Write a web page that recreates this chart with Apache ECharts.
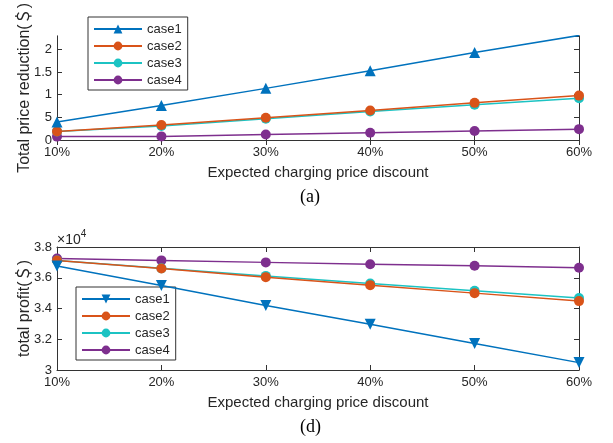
<!DOCTYPE html>
<html>
<head>
<meta charset="utf-8">
<script src="https://cdn.jsdelivr.net/npm/echarts@6/dist/echarts.min.js"></script>
<style>html,body{margin:0;padding:0;background:#fff;}#c{width:613px;height:443px;}</style>
</head>
<body>
<div id="c"></div>
<script>
const categories = ['10%', '20%', '30%', '40%', '50%', '60%'];
const seriesNames = ['case1', 'case2', 'case3', 'case4'];
// (a) Total price reduction
const reductionCase1 = [0.40, 0.76, 1.14, 1.53, 1.93, 2.31];
const reductionCase2 = [0.19, 0.33, 0.49, 0.65, 0.82, 0.98];
const reductionCase3 = [0.19, 0.31, 0.47, 0.63, 0.78, 0.92];
const reductionCase4 = [0.075, 0.08, 0.12, 0.16, 0.20, 0.24];
// (d) Total profit
const profitCase1 = [36770, 35500, 34200, 32970, 31730, 30480];
const profitCase2 = [37120, 36600, 36040, 35520, 35000, 34480];
const profitCase3 = [37120, 36610, 36120, 35620, 35150, 34680];
const profitCase4 = [37250, 37130, 37000, 36880, 36780, 36650];
const reductionTicks = {0: '0', 0.5: '5', 1: '1', 1.5: '1.5', 2: '2'};
const profitTicks = {30000: '3', 32000: '3.2', 34000: '3.4', 36000: '3.6', 38000: '3.8'};

const colors = ['#0072BD', '#D95319', '#1CC3C3', '#7E2F8E'];
const axisColor = '#333';
const font = 'Liberation Sans, Arial, "Noto Sans CJK SC", sans-serif';

const chart = echarts.init(document.getElementById('c'), null, {renderer: 'canvas'});

function xAxes(gridIndex) {
  const base = {
    type: 'category', data: categories, boundaryGap: false, gridIndex,
    axisLine: {show: true, lineStyle: {color: axisColor, width: 1}},
    axisTick: {show: true, inside: true, length: 5, alignWithLabel: true, lineStyle: {color: axisColor}},
    splitLine: {show: false}
  };
  return [
    Object.assign({}, base, {
      position: 'bottom',
      axisLabel: {color: '#262626', fontSize: 13, fontFamily: font, margin: 6},
      name: 'Expected charging price discount', nameLocation: 'middle', nameGap: 25,
      nameTextStyle: {color: '#262626', fontSize: 15, fontFamily: font}
    }),
    Object.assign({}, base, {position: 'top', axisLabel: {show: false}})
  ];
}
function yAxes(gridIndex, min, max, interval, ticks, name, nameGap, showMax) {
  const base = {
    type: 'value', min, max, interval, gridIndex,
    axisLine: {show: true, lineStyle: {color: axisColor, width: 1}},
    axisTick: {show: true, inside: true, length: 5, lineStyle: {color: axisColor}},
    splitLine: {show: false}
  };
  return [
    Object.assign({}, base, {
      position: 'left',
      axisLabel: {color: '#262626', fontSize: 13, fontFamily: font, margin: 5, showMaxLabel: showMax,
        formatter: v => { const k = Math.round(v * 1000) / 1000; return ticks[k] !== undefined ? ticks[k] : ''; }},
      name, nameLocation: 'middle', nameGap, nameMoveOverlap: false,
      nameTextStyle: {color: '#262626', fontSize: 16, fontFamily: font}
    }),
    Object.assign({}, base, {position: 'right', axisLabel: {show: false}})
  ];
}

const topData = [reductionCase1, reductionCase2, reductionCase3, reductionCase4];
const botData = [profitCase1, profitCase2, profitCase3, profitCase4];
const downTri = 'path://M0,0 L10,0 L5,9 Z';

const series = [];
seriesNames.forEach((n, i) => {
  series.push({
    name: n, type: 'line', xAxisIndex: 0, yAxisIndex: 0, data: topData[i],
    symbol: i === 0 ? 'triangle' : 'circle', symbolSize: i === 0 ? 11 : 10,
    lineStyle: {color: colors[i], width: 1.5}, itemStyle: {color: colors[i]},
    animation: false, z: 10 - i
  });
});
seriesNames.forEach((n, i) => {
  series.push({
    name: n + ' d', type: 'line', xAxisIndex: 2, yAxisIndex: 2, data: botData[i],
    symbol: i === 0 ? downTri : 'circle', symbolSize: i === 0 ? 11 : 10,
    lineStyle: {color: colors[i], width: 1.5}, itemStyle: {color: colors[i]},
    animation: false, z: 10 - i
  });
});

const legendBase = {
  orient: 'vertical', itemWidth: 48, itemHeight: 11, itemGap: 3,
  borderColor: '#333', borderWidth: 1, backgroundColor: '#fff',
  padding: [5, 6, 3, 5],
  textStyle: {color: '#262626', fontSize: 13, lineHeight: 14, fontFamily: font},
  selectedMode: false
};

chart.setOption({
  backgroundColor: '#fff',
  animation: false,
  grid: [
    {left: 57, top: 9, width: 522, height: 131},
    {left: 57, top: 247, width: 522, height: 123}
  ],
  xAxis: [...xAxes(0), ...xAxes(1)],
  yAxis: [
    ...yAxes(0, 0, 2.3, 0.5, reductionTicks, 'Total price reduction(＄)', 24, false),
    ...yAxes(1, 30000, 38000, 2000, profitTicks, 'total profit(＄)', 24, true)
  ],
  legend: [
    Object.assign({}, legendBase, {left: 88, top: 17, data: seriesNames}),
    Object.assign({}, legendBase, {left: 76, top: 287, data: seriesNames.map(n => n + ' d'),
      formatter: nm => nm.split(' ')[0]})
  ],
  graphic: [
    {type: 'text', left: 300, top: 188, style: {text: '(a)', font: '18px "Liberation Serif", "Times New Roman", serif', fill: '#000'}},
    {type: 'text', left: 300, top: 418, style: {text: '(d)', font: '18px "Liberation Serif", "Times New Roman", serif', fill: '#000'}},
    {type: 'text', left: 57, top: 229, style: {
      text: '{a|×10}{b|4}', rich: {a: {fontSize: 14, fontFamily: font, fill: '#262626', verticalAlign: 'bottom'}, b: {fontSize: 10, fontFamily: font, fill: '#262626', verticalAlign: 'top', padding: [0, 0, 8, 0]}}
    }}
  ],
  series
});
</script>
</body>
</html>
